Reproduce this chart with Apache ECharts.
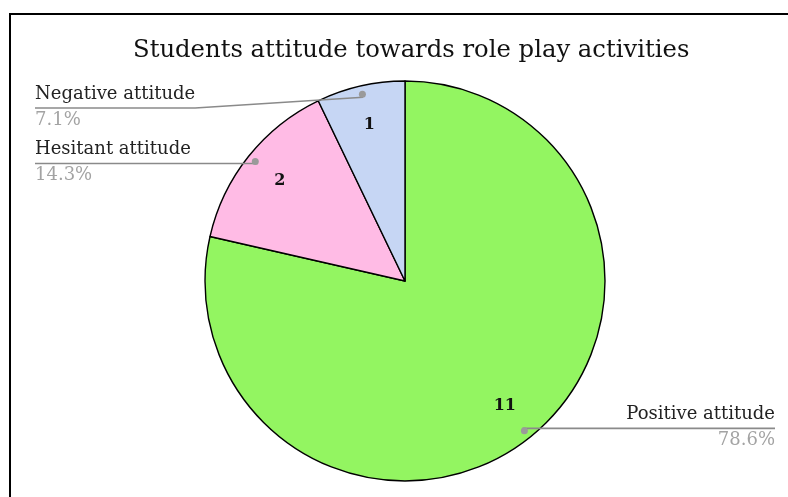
<!DOCTYPE html>
<html>
<head>
<meta charset="utf-8">
<script src="https://cdn.jsdelivr.net/npm/echarts@6/dist/echarts.min.js"></script>
<style>
  html, body { margin: 0; padding: 0; background: #fff; }
  #chart { position: absolute; left: 0; top: 0; width: 788px; height: 497px; }
  #frame { position: absolute; left: 9px; top: 13px; width: 820px; height: 520px;
           border-left: 2px solid #000; border-top: 2px solid #000; pointer-events: none; }
</style>
</head>
<body>
<div id="chart"></div>
<div id="frame"></div>
<script>
// Survey answers: how students feel about role play activities
const categories = ['Positive attitude', 'Hesitant attitude', 'Negative attitude'];
const counts = [11, 2, 1];
const sliceColors = ['#93f561', '#ffbbe5', '#c6d6f4'];

const FONT = 'DejaVu Serif';
const TITLE_TEXT = 'Students attitude towards role play activities';

const pieData = categories.map((name, i) => ({
  name: name,
  value: counts[i],
  itemStyle: { color: sliceColors[i] }
}));
// same slices, filled with nothing, used only to carry labels and markers
const ghostData = categories.map((name, i) => ({ name: name, value: counts[i] }));

const common = {
  type: 'pie',
  left: 35,
  right: 13,
  top: 0,
  bottom: 0,
  center: ['50%', 281],
  startAngle: 90,
  clockwise: true,
  percentPrecision: 1,
  animation: false
};

const chart = echarts.init(document.getElementById('chart'), null, { renderer: 'canvas' });

// labels may not start higher than this, so they stay clear of the title
const TITLE_CLEARANCE = 86;
// the leader line sits a little below the middle of its two-line label
const LINE_BELOW_MIDDLE = 1;

chart.setOption({
  backgroundColor: '#fff',
  title: {
    text: TITLE_TEXT,
    left: 128,
    top: 34,
    textStyle: { fontFamily: FONT, fontSize: 24.3, fontWeight: 'normal', color: '#111' }
  },
  series: [
    Object.assign({}, common, {
      name: 'slices',
      radius: 200,
      data: pieData,
      silent: true,
      itemStyle: { borderColor: '#000', borderWidth: 1.4 },
      label: { show: false },
      labelLine: { show: false }
    }),
    Object.assign({}, common, {
      name: 'counts',
      radius: [114, 200],
      data: ghostData,
      silent: true,
      itemStyle: { color: 'rgba(0,0,0,0)' },
      label: {
        show: true,
        position: 'inside',
        formatter: '{c}',
        fontFamily: FONT,
        fontSize: 16,
        fontWeight: 'bold',
        color: '#111'
      },
      labelLine: { show: false }
    }),
    Object.assign({}, common, {
      name: 'callouts',
      radius: 188.5,
      data: ghostData,
      silent: true,
      z: 3,
      itemStyle: { color: 'rgba(0,0,0,0)' },
      label: {
        show: true,
        position: 'outside',
        alignTo: 'edge',
        edgeDistance: 0,
        distanceToLabelLine: 0,
        formatter: '{n|{b}}\n{p|{d}%}',
        rich: {
          n: { fontFamily: FONT, fontSize: 18, color: '#222', lineHeight: 26 },
          p: { fontFamily: FONT, fontSize: 18, color: '#a3a3a3', lineHeight: 26 }
        }
      },
      labelLine: {
        show: true,
        length: 0,
        length2: 10,
        smooth: false,
        lineStyle: { color: '#8a8a8a', width: 1.6 }
      },
      // run each leader line under its whole label, and keep labels clear of the title
      labelLayout: function (params) {
        const r = params.labelRect;
        const pts = params.labelLinePoints;
        if (!pts) return {};
        const start = pts[0];
        let y = pts[pts.length - 1][1];
        const top = y - r.height / 2;
        if (top < TITLE_CLEARANCE) {
          y += TITLE_CLEARANCE - top;
        }
        const onLeft = r.x + r.width / 2 < start[0];
        const near = onLeft ? r.x + r.width : r.x;
        const far = onLeft ? r.x : r.x + r.width;
        return {
          y: y - LINE_BELOW_MIDDLE,
          verticalAlign: 'middle',
          labelLinePoints: [[start[0], start[1]], [near, y], [far, y]]
        };
      }
    }),
    Object.assign({}, common, {
      name: 'markers',
      radius: [177, 200],
      data: ghostData,
      silent: true,
      z: 4,
      itemStyle: { color: 'rgba(0,0,0,0)' },
      label: {
        show: true,
        position: 'inside',
        formatter: '{m|}',
        rich: {
          m: { width: 7, height: 7, borderRadius: 3.5, backgroundColor: '#9a9a9a' }
        }
      },
      labelLine: { show: false }
    })
  ]
});
</script>
</body>
</html>
